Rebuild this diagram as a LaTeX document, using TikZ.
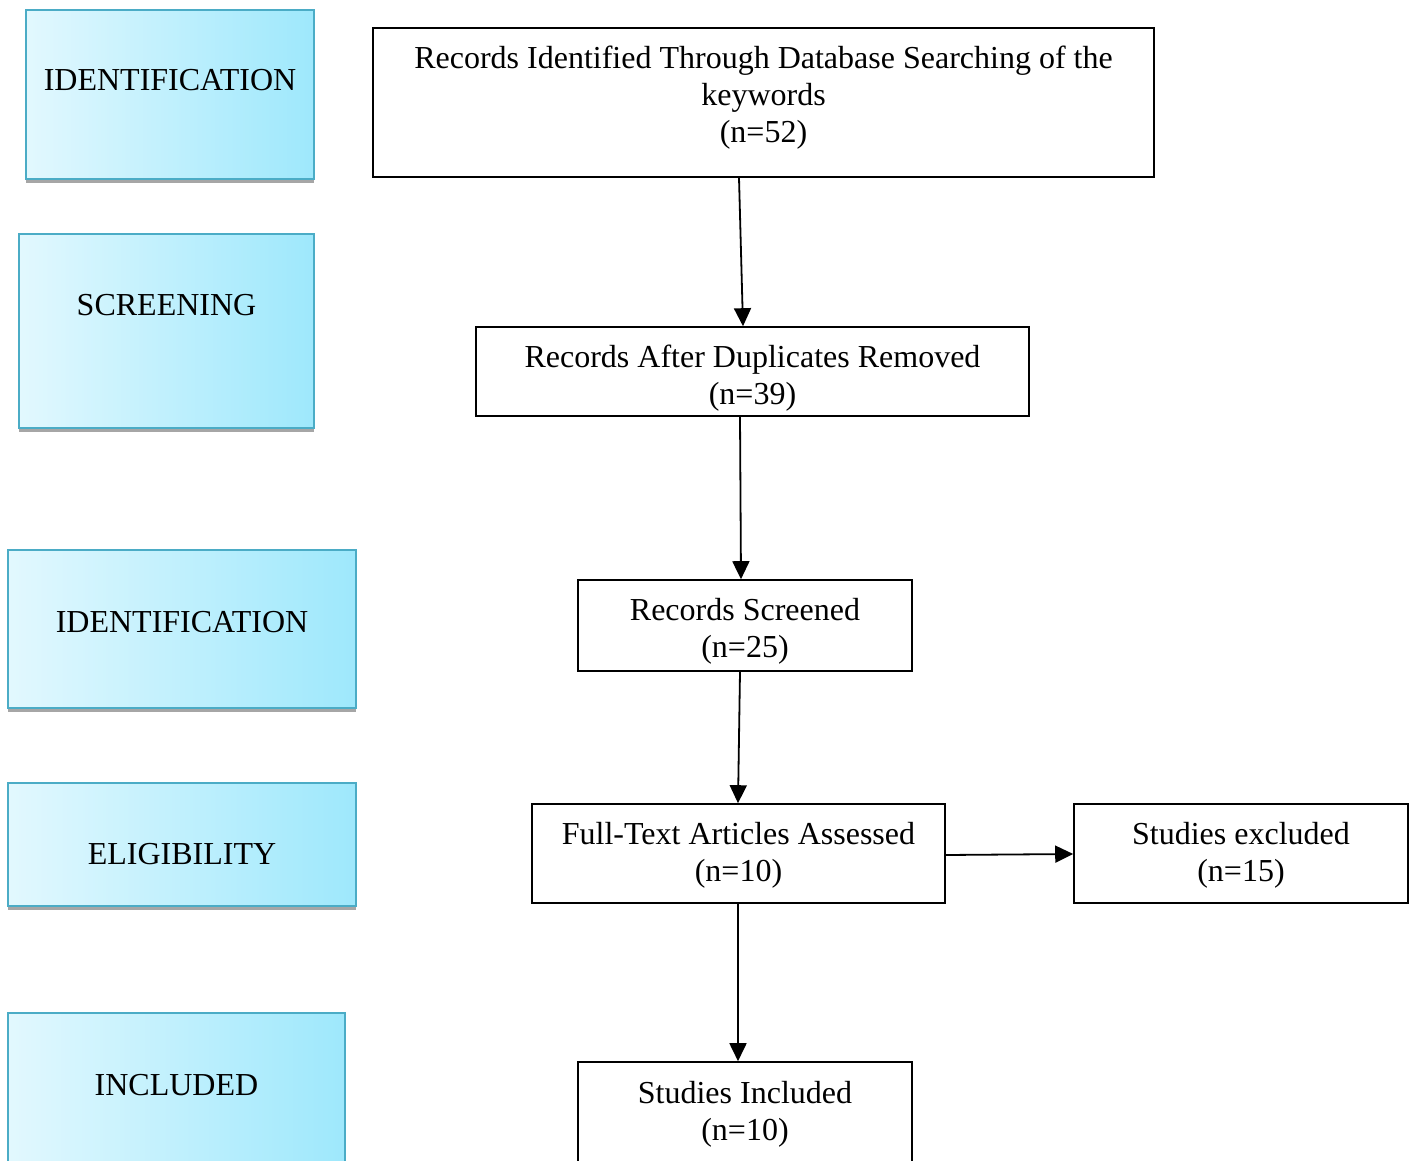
\documentclass[tikz,border=0pt]{standalone}
\usepackage{fontspec}
\setmainfont{Liberation Serif}
\usetikzlibrary{arrows.meta,shadows}
\definecolor{gleft}{RGB}{226,248,254}
\definecolor{gright}{RGB}{158,232,252}
\definecolor{gborder}{RGB}{75,172,198}
\tikzset{
  leftbox/.style={draw=gborder, line width=2pt, left color=gleft, right color=gright,
    general shadow={fill=black!35, shadow yshift=-4pt, shadow xshift=0pt},
    inner sep=0pt, rectangle},
  lbl/.style={font=\fontsize{32}{37}\selectfont, inner sep=0pt},
  flowbox/.style={draw=black, line width=1.6pt, fill=white, inner sep=0pt, rectangle},
  ftxt/.style={font=\fontsize{32}{37}\selectfont, align=center, inner sep=0pt},
  arr/.style={line width=1.8pt, -{Triangle[length=18pt,width=17pt]}}
}
\begin{document}
\begin{tikzpicture}[x=1pt,y=-1pt]
\useasboundingbox (0,0) rectangle (1416,1161);
\clip (0,0) rectangle (1416,1161);
% left stage boxes
\node[leftbox, minimum width=288, minimum height=169] (L1) at (170,94.5) {};
\node[lbl] (T1) at (170,80) {IDENTIFICATION};
\node[leftbox, minimum width=295, minimum height=194] (L2) at (166.5,331) {};
\node[lbl] (T2) at (166.5,305) {SCREENING};
\node[leftbox, minimum width=348, minimum height=158] (L3) at (182,629) {};
\node[lbl] (T3) at (182,622) {IDENTIFICATION};
\node[leftbox, minimum width=348, minimum height=123] (L4) at (182,844.5) {};
\node[lbl] (T4) at (182,854) {ELIGIBILITY};
\node[leftbox, minimum width=337, minimum height=160] (L5) at (176.5,1093) {};
\node[lbl] (T5) at (176.5,1085) {INCLUDED};
% flow boxes
\node[flowbox, minimum width=781, minimum height=149] (A) at (763.5,102.5) {};
\node[ftxt] (At) at (763.5,98) {Records Identified Through Database Searching of the\\keywords\\(n=52)};
\node[flowbox, minimum width=553, minimum height=89] (B) at (752.5,371.5) {};
\node[ftxt] (Bt) at (752.5,378.5) {Records After Duplicates Removed\\(n=39)};
\node[flowbox, minimum width=334, minimum height=91] (C) at (745,625.5) {};
\node[ftxt] (Ct) at (745,631.5) {Records Screened\\(n=25)};
\node[flowbox, minimum width=413, minimum height=99] (D) at (738.5,853.5) {};
\node[ftxt] (Dt) at (738.5,855.5) {Full-Text Articles Assessed\\(n=10)};
\node[flowbox, minimum width=334, minimum height=99] (E) at (1241,853.5) {};
\node[ftxt] (Et) at (1241,855.5) {Studies excluded\\(n=15)};
\node[flowbox, minimum width=334, minimum height=110] (F) at (745,1117) {};
\node[ftxt] (Ft) at (745,1114.5) {Studies Included\\(n=10)};
% connectors
\draw[arr] ([xshift=-24.5pt]A.south) -- ([xshift=-9.5pt]B.north);
\draw[arr] ([xshift=-12.5pt]B.south) -- ([xshift=-4pt]C.north);
\draw[arr] ([xshift=-5pt]C.south) -- ([xshift=-0.5pt]D.north);
\draw[arr] ([xshift=-0.5pt]D.south) -- ([xshift=-7pt]F.north);
\draw[arr] ([yshift=-1.5pt]D.east) -- ([yshift=-0.5pt]E.west);
\end{tikzpicture}
\end{document}
